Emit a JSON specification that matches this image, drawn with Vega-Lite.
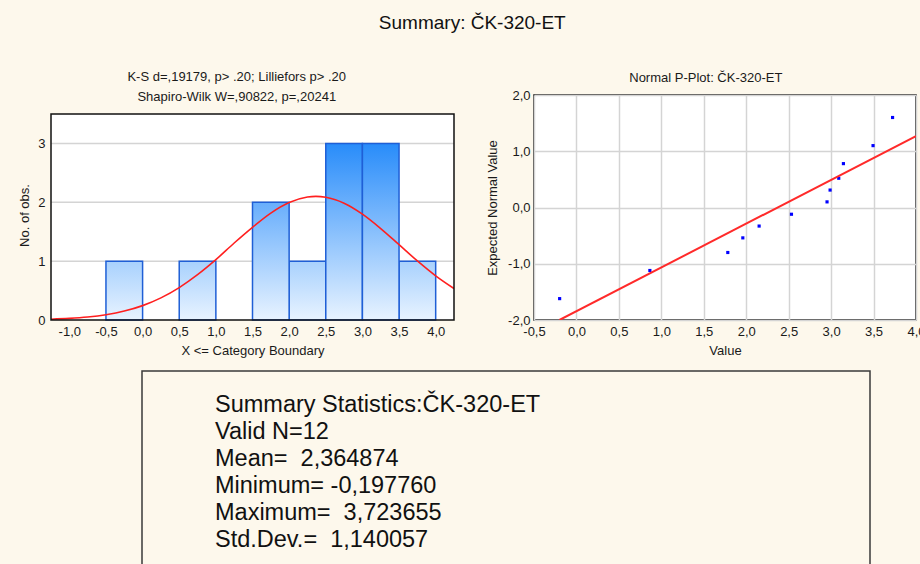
{
  "$schema": "https://vega.github.io/schema/vega-lite/v6.json",
  "background": "#fdf8ec",
  "padding": {"left": 18, "top": 14, "right": 0, "bottom": 0},
  "title": {"text": "Summary: ČK-320-ET", "fontSize": 19, "font": "Liberation Sans", "fontWeight": "normal", "color": "#111", "anchor": "middle", "offset": 38},
  "config": {
    "font": "Liberation Sans",
    "locale": {"number": {"decimal": ",", "thousands": ".", "grouping": [3], "currency": ["", ""], "minus": "-"}},
    "axis": {"labelFont": "Liberation Sans", "labelFontSize": 13, "labelColor": "#1a1a1a", "titleFont": "Liberation Sans", "titleFontSize": 13, "titleFontWeight": "normal", "titleColor": "#1a1a1a", "domain": false, "ticks": false, "gridColor": "#d4d4d4", "gridWidth": 1.5, "labelPadding": 5, "labelFlush": false, "labelOverlap": false},
    "view": {"stroke": "#111", "strokeWidth": 1.5, "fill": "white"},
    "title": {"font": "Liberation Sans", "fontSize": 13, "fontWeight": "normal", "color": "#1a1a1a"}
  },
  "vconcat": [
    {
      "hconcat": [
        {
          "width": 403,
          "height": 225,
          "view": {"stroke": null, "fill": null},
          "title": {"text": ["K-S d=,19179, p> .20; Lilliefors p> .20", "Shapiro-Wilk W=,90822, p=,20241"], "lineHeight": 20, "anchor": "middle", "frame": "bounds", "offset": -9},
          "layer": [
            {
              "data": {"values": [{}]},
              "mark": {"type": "rect", "fill": "white"},
              "encoding": {
                "x": {"datum": -1.25, "type": "quantitative", "scale": {"domain": [-1.25, 4.25], "nice": false, "zero": false}, "axis": {"values": [-1, -0.5, 0, 0.5, 1, 1.5, 2, 2.5, 3, 3.5, 4], "format": ".1f", "title": "X <= Category Boundary", "grid": false, "labelPadding": 5, "titlePadding": 6}},
                "x2": {"datum": 4.25},
                "y": {"datum": 0, "type": "quantitative", "scale": {"domain": [0, 3.8228], "nice": false}, "axis": {"values": [0, 1, 2, 3], "format": "d", "title": "No. of obs.", "grid": false, "labelPadding": 6, "titlePadding": 6, "titleY": 120}},
                "y2": {"datum": 3.5}
              }
            },
            {
              "data": {"values": [{"g": 1}, {"g": 2}, {"g": 3}]},
              "mark": {"type": "rule", "color": "#d4d4d4", "strokeWidth": 1.5},
              "encoding": {
                "x": {"datum": -1.25, "type": "quantitative"},
                "x2": {"datum": 4.25},
                "y": {"field": "g", "type": "quantitative"}
              }
            },
            {
              "data": {"values": [
                {"lo": -0.5, "hi": 0, "n": 1}, {"lo": 0.5, "hi": 1, "n": 1}, {"lo": 2, "hi": 2.5, "n": 1}, {"lo": 3.5, "hi": 4, "n": 1}
              ]},
              "mark": {"type": "bar", "fill": {"gradient": "linear", "x1": 0, "y1": 0, "x2": 0, "y2": 1, "stops": [{"offset": 0, "color": "#a8d1fd"}, {"offset": 1, "color": "#e8f3ff"}]}, "stroke": "#1f5fd6", "strokeWidth": 1.5},
              "encoding": {
                "x": {"field": "lo", "type": "quantitative"},
                "x2": {"field": "hi"},
                "y": {"field": "n", "type": "quantitative"},
                "y2": {"datum": 0}
              }
            },
            {
              "data": {"values": [{"lo": 1.5, "hi": 2, "n": 2}]},
              "mark": {"type": "bar", "fill": {"gradient": "linear", "x1": 0, "y1": 0, "x2": 0, "y2": 1, "stops": [{"offset": 0, "color": "#68aefc"}, {"offset": 1, "color": "#e8f3ff"}]}, "stroke": "#1f5fd6", "strokeWidth": 1.5},
              "encoding": {
                "x": {"field": "lo", "type": "quantitative"},
                "x2": {"field": "hi"},
                "y": {"field": "n", "type": "quantitative"},
                "y2": {"datum": 0}
              }
            },
            {
              "data": {"values": [{"lo": 2.5, "hi": 3, "n": 3}, {"lo": 3, "hi": 3.5, "n": 3}]},
              "mark": {"type": "bar", "fill": {"gradient": "linear", "x1": 0, "y1": 0, "x2": 0, "y2": 1, "stops": [{"offset": 0, "color": "#288cfa"}, {"offset": 1, "color": "#e8f3ff"}]}, "stroke": "#1f5fd6", "strokeWidth": 1.5},
              "encoding": {
                "x": {"field": "lo", "type": "quantitative"},
                "x2": {"field": "hi"},
                "y": {"field": "n", "type": "quantitative"},
                "y2": {"datum": 0}
              }
            },
            {
              "data": {"values": [
                {"x": -1.25, "y": 0.0138}, {"x": -1.0, "y": 0.027}, {"x": -0.75, "y": 0.0503}, {"x": -0.5, "y": 0.0893},
                {"x": -0.25, "y": 0.1513}, {"x": 0.0, "y": 0.2442}, {"x": 0.25, "y": 0.3758}, {"x": 0.5, "y": 0.5509},
                {"x": 0.75, "y": 0.7699}, {"x": 1.0, "y": 1.0254}, {"x": 1.25, "y": 1.3081}, {"x": 1.5, "y": 1.5746},
                {"x": 1.75, "y": 1.8154}, {"x": 2.0, "y": 1.9948}, {"x": 2.25, "y": 2.089}, {"x": 2.365, "y": 2.0996},
                {"x": 2.5, "y": 2.0849}, {"x": 2.75, "y": 1.9831}, {"x": 3.0, "y": 1.7978}, {"x": 3.25, "y": 1.5533},
                {"x": 3.5, "y": 1.279}, {"x": 3.75, "y": 1.0037}, {"x": 4.0, "y": 0.7507}, {"x": 4.25, "y": 0.535}
              ]},
              "mark": {"type": "line", "color": "#ff1f1f", "strokeWidth": 1.6, "interpolate": "monotone", "clip": true},
              "encoding": {
                "x": {"field": "x", "type": "quantitative"},
                "y": {"field": "y", "type": "quantitative"}
              }
            },
            {
              "data": {"values": [{}]},
              "mark": {"type": "rect", "fill": null, "stroke": "#111", "strokeWidth": 1.5},
              "encoding": {
                "x": {"datum": -1.25, "type": "quantitative"},
                "x2": {"datum": 4.25},
                "y": {"datum": 0, "type": "quantitative"},
                "y2": {"datum": 3.5}
              }
            }
          ]
        },
        {
          "width": 382,
          "height": 225,
          "title": {"text": "Normal P-Plot: ČK-320-ET", "anchor": "middle", "frame": "bounds", "offset": 4},
          "layer": [
            {
              "data": {"values": [
                {"value": -0.198, "expected": -1.62}, {"value": 0.865, "expected": -1.12}, {"value": 1.783, "expected": -0.8},
                {"value": 1.96, "expected": -0.54}, {"value": 2.152, "expected": -0.33}, {"value": 2.533, "expected": -0.12},
                {"value": 2.952, "expected": 0.1}, {"value": 2.988, "expected": 0.31}, {"value": 3.09, "expected": 0.52},
                {"value": 3.145, "expected": 0.78}, {"value": 3.494, "expected": 1.1}, {"value": 3.724, "expected": 1.6}
              ]},
              "mark": {"type": "square", "size": 10, "color": "#0000ff", "opacity": 1},
              "encoding": {
                "x": {"field": "value", "type": "quantitative", "scale": {"domain": [-0.5, 4.0], "nice": false, "zero": false}, "axis": {"values": [-0.5, 0, 0.5, 1, 1.5, 2, 2.5, 3, 3.5, 4], "format": ".1f", "title": "Value", "grid": true, "labelPadding": 5, "titlePadding": 6}},
                "y": {"field": "expected", "type": "quantitative", "scale": {"domain": [-2, 2], "nice": false, "zero": false}, "axis": {"values": [-2, -1.5, -1, -0.5, 0, 0.5, 1, 1.5, 2], "format": ".1f", "title": "Expected Normal Value", "grid": true, "labelPadding": 4, "titlePadding": 8}}
              }
            },
            {
              "data": {"values": [{"value": -0.2, "expected": -2.0}, {"value": 4.0, "expected": 1.27}]},
              "mark": {"type": "line", "color": "#ff2a2a", "strokeWidth": 2, "clip": true},
              "encoding": {
                "x": {"field": "value", "type": "quantitative"},
                "y": {"field": "expected", "type": "quantitative"}
              }
            }
          ]
        }
      ],
      "spacing": 30
    },
    {
      "hconcat": [
        {
          "width": 80,
          "height": 10,
          "view": {"stroke": null, "fill": null},
          "data": {"values": [{}]},
          "mark": {"type": "point", "opacity": 0},
          "encoding": {}
        },
        {
          "width": 728,
          "height": 200,
          "view": {"fill": "#fdf8ec", "stroke": "#3a3a3a", "strokeWidth": 1.5},
          "data": {"values": [
            {"line": 1, "text": "Summary Statistics:ČK-320-ET"},
            {"line": 2, "text": "Valid N=12"},
            {"line": 3, "text": "Mean=\u00a0 2,364874"},
            {"line": 4, "text": "Minimum= -0,197760"},
            {"line": 5, "text": "Maximum=\u00a0 3,723655"},
            {"line": 6, "text": "Std.Dev.=\u00a0 1,140057"}
          ]},
          "mark": {"type": "text", "align": "left", "baseline": "middle", "fontSize": 23.5, "font": "Liberation Sans", "color": "#111", "x": 73},
          "encoding": {
            "y": {"field": "line", "type": "ordinal", "scale": {"type": "point", "range": [34, 169], "padding": 0}, "axis": null},
            "text": {"field": "text"}
          }
        }
      ],
      "spacing": 10
    }
  ],
  "spacing": 12
}
